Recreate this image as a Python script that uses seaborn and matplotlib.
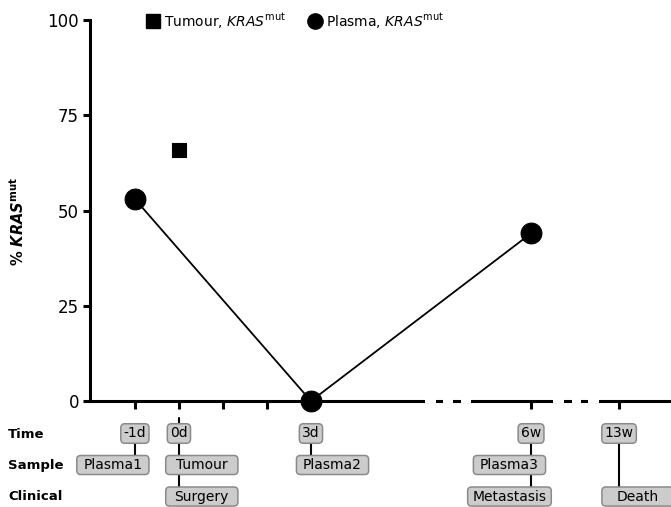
import matplotlib
matplotlib.use('Agg')
import matplotlib.pyplot as plt
import seaborn as sns
from matplotlib.lines import Line2D
from matplotlib.patches import FancyBboxPatch

# data
plasma_x = [-1, 3, 8]
plasma_y = [53, 0, 44]
tumour_x = [0]
tumour_y = [66]

tick_x = [-1, 0, 1, 2, 3, 8, 10]
y_ticks = [0, 25, 50, 75, 100]

time_x = [-1, 0, 3, 8, 10]
time_labels = ['-1d', '0d', '3d', '6w', '13w']
sample_labels = ['Plasma1', 'Tumour', 'Plasma2', 'Plasma3', None]
clinical_labels = [None, 'Surgery', None, 'Metastasis', 'Death']
box_shift = [-0.5, 0.52, 0.49, -0.49, 0.43]

sns.set_style('ticks')
plt.rcParams['font.family'] = ['DejaVu Sans']
plt.rcParams['mathtext.fontset'] = 'dejavusans'
plt.rcParams['axes.edgecolor'] = 'black'
plt.rcParams['xtick.color'] = 'black'
plt.rcParams['ytick.color'] = 'black'
plt.rcParams['text.color'] = 'black'

fig = plt.figure(figsize=(6.71, 5.07), dpi=100)
ax = fig.add_axes([90/671, 1 - 401/507, 581/671, 381/507])

sns.lineplot(x=plasma_x, y=plasma_y, ax=ax, color='black', lw=1.3, marker='o',
             markersize=15, markeredgecolor='black', clip_on=False, zorder=6)
sns.scatterplot(x=tumour_x, y=tumour_y, ax=ax, color='black', marker='s', s=100,
                edgecolor='black', clip_on=False, zorder=6)

ax.set_xlim(-2.02, 11.18)
ax.set_ylim(0, 100)
ax.set_xticks(tick_x)
ax.set_xticklabels([])
ax.set_yticks(y_ticks)
ax.tick_params(axis='y', labelsize=12, length=5, width=2.2, pad=3)
ax.tick_params(axis='x', length=6, width=2.2)
sns.despine(ax=ax)
for s in ['left', 'bottom']:
    ax.spines[s].set_linewidth(2.2)

# axis breaks
for a, b in [(5.59, 5.84), (6.0, 6.23), (6.41, 6.64), (8.5, 8.75), (8.93, 9.14), (9.3, 9.55)]:
    ax.plot([a, b], [0, 0], color='white', lw=3, solid_capstyle='butt', clip_on=False, zorder=5)

fig.text(18/671, 1 - 222/507, r'% $\mathbfit{KRAS}^{\mathbf{mut}}$', rotation=90,
         ha='center', va='center', fontsize=10.5, fontweight='bold')

handles = [Line2D([], [], marker='s', color='black', ls='', markersize=10),
           Line2D([], [], marker='o', color='black', ls='', markersize=11)]
fig.legend(handles, [r'Tumour, $\it{KRAS}^{\rm mut}$', r'Plasma, $\it{KRAS}^{\rm mut}$'],
           loc='center left', bbox_to_anchor=(146/671, 1 - 21/507), ncol=2, frameon=False,
           fontsize=10, handletextpad=0.3, columnspacing=1.6, handlelength=1.0, borderpad=0,
           borderaxespad=0)

# timeline annotation
trans = ax.get_xaxis_transform()
row_y = [-0.0853, -0.168, -0.2507]
box_fc = '#cccccc'
box_ec = '#8a8a8a'
h = 0.05
asp = 44 / 381


def tag(xc, y, text, width):
    p = FancyBboxPatch((xc - width/2, y - h/2), width, h, transform=trans,
                       boxstyle='round,pad=0,rounding_size=0.09', mutation_aspect=asp,
                       fc=box_fc, ec=box_ec, lw=1.1, clip_on=False, zorder=4)
    ax.add_patch(p)
    ax.text(xc, y, text, transform=trans, ha='center', va='center', fontsize=10,
            clip_on=False, zorder=5)


for i, x in enumerate(time_x):
    ax.text(x, row_y[0], time_labels[i], transform=trans, ha='center', va='center',
            fontsize=10, zorder=5, clip_on=False,
            bbox=dict(boxstyle='round,pad=0.2,rounding_size=0.3', fc=box_fc, ec=box_ec, lw=1.1))
    last = row_y[0]
    for lab, yy in [(sample_labels[i], row_y[1]), (clinical_labels[i], row_y[2])]:
        if lab is None:
            continue
        w = 1.9 if len(lab) > 8 else 1.64
        tag(x + box_shift[i], yy, lab, w)
        last = yy
    top = -0.045 if x == 0 else row_y[0]
    ax.plot([x, x], [top, last], transform=trans, color='black', lw=1.5,
            clip_on=False, zorder=3)

for lab, yy in zip(['Time', 'Sample', 'Clinical'], [435, 466, 497]):
    fig.text(8/671, 1 - yy/507, lab, ha='left', va='center', fontsize=9.5, fontweight='bold')

fig.savefig('out.png', dpi=100)
